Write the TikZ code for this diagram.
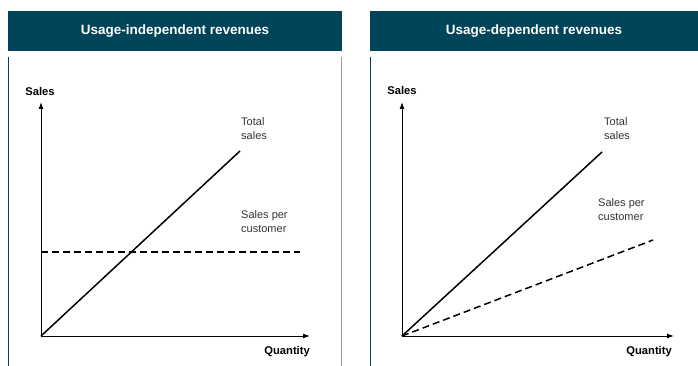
\documentclass[tikz,border=0pt]{standalone}
\usepackage{fontspec}
\setmainfont{Liberation Sans}
\usetikzlibrary{arrows.meta}
\definecolor{hdr}{HTML}{004459}
\definecolor{lightedge}{HTML}{8AA3AE}
\definecolor{txtgray}{HTML}{333333}
\tikzset{
  header/.style={fill=hdr, draw=none, minimum height=40pt, inner sep=0pt, text=white, font=\bfseries\fontsize{13.5}{15}\selectfont},
  axis/.style={line width=1pt, -{Latex[length=7pt,width=5pt]}},
  axlabel/.style={font=\bfseries\fontsize{11.2}{13}\selectfont, inner sep=0pt},
  curvelabel/.style={font=\fontsize{11}{14.5}\selectfont, text=txtgray, align=left, inner sep=0pt, anchor=north west},
  totline/.style={line width=1.5pt},
  perline/.style={line width=1.5pt, dash pattern=on 7pt off 4pt},
}
\begin{document}
\begin{tikzpicture}[x=1pt,y=-1pt]
\useasboundingbox (0,0) rectangle (698,366);
% headers
\node[header, minimum width=334pt] (h1) at (175,31) {Usage-independent revenues};
\node[header, minimum width=328pt] (h2) at (534,31) {Usage-dependent revenues};
% panel borders
\draw[hdr, line width=1pt] (8,57) -- (8,366);
\draw[lightedge, line width=1.6pt] (341.5,57) -- (341.5,366);
\draw[hdr, line width=1pt] (370.5,57) -- (370.5,366);
% left chart
\coordinate (o1) at (41,336);
\coordinate (y1) at (41,102);
\coordinate (x1) at (310,336);
\coordinate (t1) at (240,151);
\coordinate (d1a) at (41,252);
\coordinate (d1b) at (300,252);
\draw[axis] (o1) -- (y1);
\draw[axis] (o1) -- (x1);
\draw[totline] (o1) -- (t1);
\draw[perline] (d1a) -- (d1b);
\node[axlabel] (s1) at (40,91) {Sales};
\node[axlabel, anchor=east] (q1) at (310,352) {Quantity};
\node[curvelabel] (tl1) at (241,117) {Total\\sales};
\node[curvelabel] (pl1) at (241,210) {Sales per\\customer};
% right chart
\coordinate (o2) at (402,336);
\coordinate (y2) at (402,102);
\coordinate (x2) at (674,336);
\coordinate (t2) at (602,152);
\coordinate (d2) at (653,240);
\draw[axis] (o2) -- (y2);
\draw[axis] (o2) -- (x2);
\draw[totline] (o2) -- (t2);
\draw[perline] (o2) -- (d2);
\node[axlabel] (s2) at (402,90) {Sales};
\node[axlabel, anchor=east] (q2) at (672,352) {Quantity};
\node[curvelabel] (tl2) at (604,117) {Total\\sales};
\node[curvelabel] (pl2) at (598,198) {Sales per\\customer};
\end{tikzpicture}
\end{document}
